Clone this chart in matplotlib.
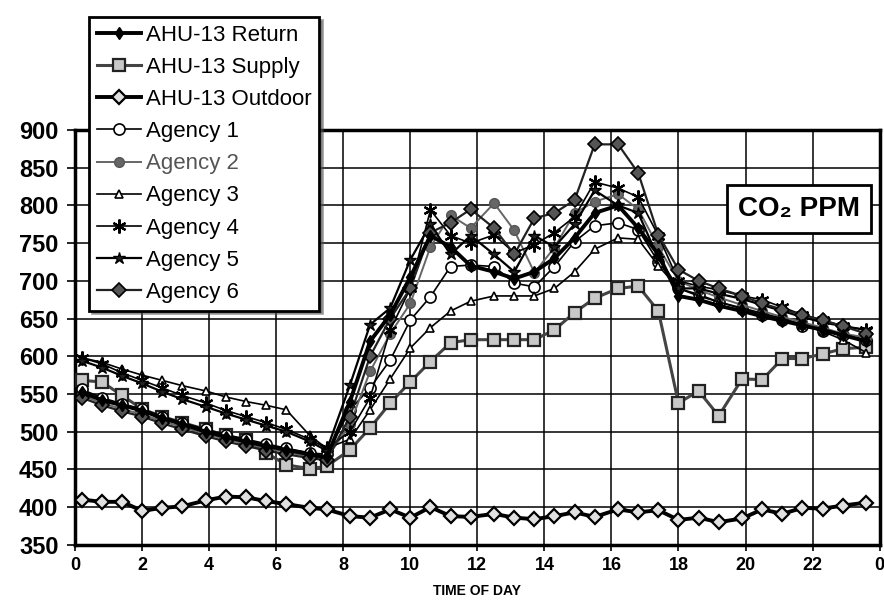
import matplotlib
matplotlib.use('Agg')
import matplotlib.pyplot as plt

plt.rcParams['font.family'] = ['Liberation Sans', 'DejaVu Sans']

# sample times (hours)
hours = [0.2, 0.8, 1.4, 2.0, 2.6, 3.2, 3.9, 4.5, 5.1, 5.7, 6.3, 7.0, 7.5,
         8.2, 8.8, 9.4, 10.0, 10.6, 11.2, 11.8, 12.5, 13.1, 13.7, 14.3, 14.9,
         15.5, 16.2, 16.8, 17.4, 18.0, 18.6, 19.2, 19.9, 20.5, 21.1, 21.7,
         22.3, 22.9, 23.6]

ahu_return = [552, 542, 535, 528, 518, 510, 500, 493, 487, 481, 476, 470, 466,
              540, 620, 655, 705, 760, 745, 720, 712, 703, 712, 730, 757,
              790, 800, 770, 735, 680, 675, 667, 660, 653, 647, 641, 635, 628, 620]
ahu_supply = [568, 566, 548, 530, 520, 512, 503, 495, 489, 472, 456, 451, 454,
              476, 505, 538, 566, 593, 618, 622, 622, 622, 622, 635, 658,
              677, 690, 693, 660, 538, 554, 521, 570, 569, 597, 597, 603, 610, 612]
ahu_outdoor = [410, 407, 407, 395, 399, 401, 409, 414, 413, 408, 404, 399, 397,
               388, 386, 397, 386, 400, 388, 387, 391, 386, 384, 388, 393,
               387, 397, 393, 396, 383, 386, 380, 385, 397, 391, 399, 398, 402, 406]
agency1 = [556, 545, 537, 530, 520, 512, 503, 496, 490, 484, 478, 472, 470,
           529, 558, 595, 648, 679, 719, 721, 719, 697, 692, 719, 752,
           773, 777, 768, 725, 690, 682, 672, 663, 655, 648, 640, 634, 628, 622]
agency2 = [548, 538, 530, 523, 514, 506, 497, 490, 484, 478, 473, 467, 464,
           510, 580, 630, 670, 745, 787, 770, 803, 767, 711, 744, 790,
           805, 815, 795, 745, 700, 688, 678, 668, 660, 652, 645, 638, 630, 625]
agency3 = [598, 592, 583, 575, 568, 561, 554, 546, 540, 535, 529, 495, 478,
           490, 529, 570, 611, 638, 660, 673, 680, 680, 680, 690, 712,
           742, 757, 755, 720, 690, 680, 672, 664, 657, 650, 642, 633, 622, 605]
agency4 = [598, 590, 578, 568, 558, 548, 538, 528, 520, 512, 503, 490, 478,
           500, 545, 635, 690, 794, 760, 750, 761, 737, 748, 764, 785,
           831, 823, 811, 760, 700, 693, 688, 680, 675, 665, 655, 648, 640, 635]
agency5 = [594, 585, 574, 564, 553, 543, 533, 524, 516, 508, 500, 487, 475,
           562, 642, 664, 728, 775, 735, 760, 735, 712, 760, 745, 775,
           820, 800, 790, 730, 690, 690, 683, 676, 668, 660, 652, 645, 640, 635]
agency6 = [545, 535, 527, 520, 511, 503, 494, 487, 481, 475, 470, 465, 462,
           520, 600, 650, 690, 764, 777, 795, 770, 735, 783, 790, 807,
           881, 881, 843, 761, 715, 700, 690, 680, 670, 662, 655, 648, 640, 630]

xticks = list(range(0, 25, 2))
xticklabels = ['0', '2', '4', '6', '8', '10', '12', '14', '16', '18', '20', '22', '0']
yticks = list(range(350, 901, 50))

fig = plt.figure(figsize=(8.84, 6.02), dpi=100)
ax = fig.add_axes([0.085, 0.095, 0.910, 0.689])

ax.plot(hours, ahu_return, color='black', lw=2.8, marker='d', ms=6,
        mfc='black', mec='black', label='AHU-13 Return', zorder=4)
ax.plot(hours, ahu_supply, color='#444444', lw=2.2, marker='s', ms=8,
        mfc='#c8c8c8', mec='#222222', mew=1.6, label='AHU-13 Supply', zorder=3)
ax.plot(hours, ahu_outdoor, color='black', lw=2.8, marker='D', ms=7,
        mfc='#e0e0e0', mec='black', mew=1.6, label='AHU-13 Outdoor', zorder=3)
ax.plot(hours, agency1, color='black', lw=1.2, marker='o', ms=8,
        mfc='white', mec='black', mew=1.2, label='Agency 1', zorder=3)
ax.plot(hours, agency2, color='#666666', lw=1.4, marker='o', ms=7,
        mfc='#666666', mec='#555555', label='Agency 2', zorder=3)
ax.plot(hours, agency3, color='black', lw=1.2, marker='^', ms=6,
        mfc='white', mec='black', mew=1.2, label='Agency 3', zorder=3)
ax.plot(hours, agency4, color='black', lw=1.2, marker=(6, 2, 0), ms=10,
        mec='black', mew=1.6, label='Agency 4', zorder=3)
ax.plot(hours, agency5, color='black', lw=1.6, marker='*', ms=9,
        mfc='#222222', mec='black', label='Agency 5', zorder=3)
ax.plot(hours, agency6, color='#222222', lw=1.6, marker='D', ms=7,
        mfc='#555555', mec='black', mew=1.2, label='Agency 6', zorder=3)

ax.set_xlim(0, 24)
ax.set_ylim(350, 900)
ax.set_xticks(xticks)
ax.set_xticklabels(xticklabels, fontsize=13, fontweight='bold')
ax.set_yticks(yticks)
ax.set_yticklabels([str(v) for v in yticks], fontsize=17, fontweight='bold')
ax.tick_params(axis='y', length=6, width=1.2, pad=6)
ax.tick_params(axis='x', length=4, width=1.2, pad=5)
ax.grid(True, color='black', lw=1.1)
ax.set_axisbelow(True)
for s in ax.spines.values():
    s.set_linewidth(2.5)
ax.set_xlabel('TIME OF DAY', fontsize=10, fontweight='bold', labelpad=7)

ax.text(0.9, 0.81, 'CO\u2082 PPM', transform=ax.transAxes, ha='center', va='center',
        fontsize=20, fontweight='bold',
        bbox=dict(boxstyle='square,pad=0.4', fc='white', ec='black', lw=2))

leg = fig.legend(loc='upper left', bbox_to_anchor=(0.088, 0.99), fontsize=16,
                 frameon=True, fancybox=False, edgecolor='black', framealpha=1,
                 handlelength=2.0, handletextpad=0.2, labelspacing=0.5,
                 borderpad=0.35, shadow=True)
leg.get_frame().set_linewidth(2)
leg.get_texts()[4].set_color('#555555')

plt.savefig('out.png', dpi=100)
